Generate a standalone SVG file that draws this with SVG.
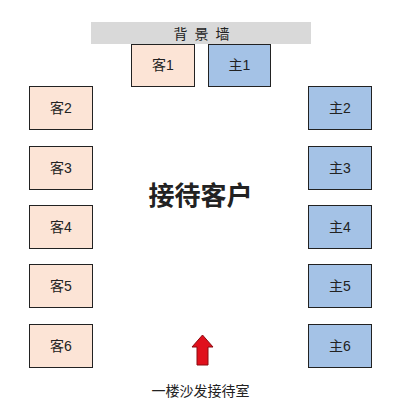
<svg xmlns="http://www.w3.org/2000/svg" width="402" height="413" viewBox="0 0 402 413">
<style>
text{font-family:"Liberation Sans","Noto Sans CJK SC",sans-serif;text-anchor:middle;fill:#222}
.g rect{fill:#fce4d6;stroke:#222;stroke-width:1}
.h rect{fill:#a4c2e6;stroke:#222;stroke-width:1}
.lbl{font-size:14px}
</style>
<rect width="402" height="413" fill="#fff"/>
<g id="wall">
<rect x="91" y="22" width="220" height="22" fill="#d9d9d9"/>
<text x="205" y="38.5" font-size="14" letter-spacing="7">背景墙</text>
</g>
<g id="k1" class="g"><rect x="131.5" y="44.5" width="63" height="42"/><text class="lbl" x="163" y="70">客1</text></g>
<g id="z1" class="h"><rect x="208.5" y="44.5" width="62" height="42"/><text class="lbl" x="239.5" y="70">主1</text></g>
<g id="k2" class="g"><rect x="29.5" y="86.5" width="63" height="43"/><text class="lbl" x="61" y="113">客2</text></g>
<g id="k3" class="g"><rect x="29.5" y="146.5" width="63" height="43"/><text class="lbl" x="61" y="173">客3</text></g>
<g id="k4" class="g"><rect x="29.5" y="205.5" width="63" height="43"/><text class="lbl" x="61" y="232">客4</text></g>
<g id="k5" class="g"><rect x="29.5" y="264.5" width="63" height="43"/><text class="lbl" x="61" y="291">客5</text></g>
<g id="k6" class="g"><rect x="29.5" y="324.5" width="63" height="43"/><text class="lbl" x="61" y="351">客6</text></g>
<g id="z2" class="h"><rect x="308.5" y="86.5" width="63" height="43"/><text class="lbl" x="340" y="113">主2</text></g>
<g id="z3" class="h"><rect x="308.5" y="146.5" width="63" height="43"/><text class="lbl" x="340" y="173">主3</text></g>
<g id="z4" class="h"><rect x="308.5" y="205.5" width="63" height="43"/><text class="lbl" x="340" y="232">主4</text></g>
<g id="z5" class="h"><rect x="308.5" y="264.5" width="63" height="43"/><text class="lbl" x="340" y="291">主5</text></g>
<g id="z6" class="h"><rect x="308.5" y="324.5" width="63" height="43"/><text class="lbl" x="340" y="351">主6</text></g>
<g id="title"><text x="200.5" y="204.5" font-size="26" font-weight="bold" fill="#000">接待客户</text></g>
<g id="connectors">
<polygon points="202.5,335 213,347 208,347 208,365 197,365 197,347 192,347" fill="#e0101c" stroke="#8b0a10" stroke-width="1"/>
</g>
<g id="caption"><text x="200.5" y="396" font-size="14">一楼沙发接待室</text></g>
</svg>
